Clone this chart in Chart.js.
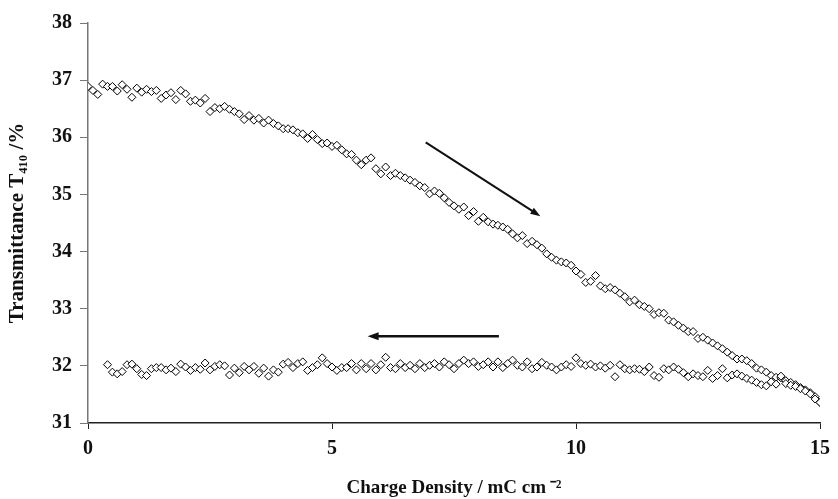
<!DOCTYPE html>
<html>
<head>
<meta charset="utf-8">
<script src="https://cdn.jsdelivr.net/npm/chart.js@4/dist/chart.umd.min.js"></script>
<style>
  html, body { margin: 0; padding: 0; background: #fff; }
  #wrap { width: 838px; height: 499px; }
</style>
</head>
<body>
<div id="wrap"><canvas id="chart" width="838" height="499"></canvas></div>
<script>
// charge density grid (mC cm-2), shared by both sweeps
const charge = [
  0.0,0.1,0.2,0.3,0.4,0.5,0.6,0.7,0.8,0.9,
  1.0,1.1,1.2,1.3,1.4,1.5,1.6,1.7,1.8,1.9,
  2.0,2.1,2.2,2.3,2.4,2.5,2.6,2.7,2.8,2.9,
  3.0,3.1,3.2,3.3,3.4,3.5,3.6,3.7,3.8,3.9,
  4.0,4.1,4.2,4.3,4.4,4.5,4.6,4.7,4.8,4.9,
  5.0,5.1,5.2,5.3,5.4,5.5,5.6,5.7,5.8,5.9,
  6.0,6.1,6.2,6.3,6.4,6.5,6.6,6.7,6.8,6.9,
  7.0,7.1,7.2,7.3,7.4,7.5,7.6,7.7,7.8,7.9,
  8.0,8.1,8.2,8.3,8.4,8.5,8.6,8.7,8.8,8.9,
  9.0,9.1,9.2,9.3,9.4,9.5,9.6,9.7,9.8,9.9,
  10.0,10.1,10.2,10.3,10.4,10.5,10.6,10.7,10.8,10.9,
  11.0,11.1,11.2,11.3,11.4,11.5,11.6,11.7,11.8,11.9,
  12.0,12.1,12.2,12.3,12.4,12.5,12.6,12.7,12.8,12.9,
  13.0,13.1,13.2,13.3,13.4,13.5,13.6,13.7,13.8,13.9,
  14.0,14.1,14.2,14.3,14.4,14.5,14.6,14.7,14.8,14.9,
  15.0
];

// forward sweep (colouring), transmittance at 410 nm
const forwardT = [
  36.89,36.82,36.75,36.93,36.89,36.89,36.81,36.92,36.84,36.70,
  36.86,36.79,36.84,36.80,36.82,36.68,36.74,36.78,36.66,36.82,
  36.76,36.63,36.65,36.60,36.68,36.45,36.52,36.50,36.54,36.49,
  36.45,36.41,36.31,36.38,36.30,36.33,36.25,36.30,36.24,36.20,
  36.15,36.15,36.13,36.08,36.06,35.98,36.05,35.96,35.89,35.90,
  35.84,35.86,35.78,35.71,35.70,35.60,35.52,35.60,35.64,35.45,
  35.36,35.48,35.33,35.37,35.33,35.29,35.25,35.21,35.15,35.12,
  35.01,35.06,35.02,34.94,34.86,34.80,34.74,34.78,34.63,34.70,
  34.53,34.60,34.52,34.48,34.46,34.43,34.39,34.31,34.24,34.28,
  34.14,34.18,34.12,34.06,33.96,33.90,33.85,33.82,33.80,33.76,
  33.66,33.60,33.46,33.48,33.58,33.40,33.35,33.37,33.33,33.27,
  33.21,33.12,33.15,33.07,33.04,33.00,32.90,32.93,32.92,32.80,
  32.77,32.71,32.66,32.60,32.60,32.48,32.50,32.45,32.40,32.35,
  32.30,32.24,32.18,32.12,32.12,32.09,32.04,31.96,31.93,31.89,
  31.83,31.80,31.79,31.74,31.71,31.67,31.62,31.58,31.53,31.46,
  31.36
];

// reverse sweep (back towards 0), stays near 32 %
const reverseT = [
  null,null,null,null,32.02,31.89,31.86,31.90,32.02,32.03,
  31.95,31.85,31.83,31.95,31.97,31.97,31.93,31.96,31.90,32.03,
  31.98,31.92,31.97,31.94,32.05,31.93,31.99,32.02,32.00,31.84,
  31.96,31.88,31.99,31.93,31.99,31.87,31.96,31.82,31.93,31.89,
  32.03,32.06,31.97,32.04,32.07,31.92,31.97,32.02,32.14,32.04,
  31.98,31.92,31.97,31.97,32.04,31.93,32.04,31.95,32.04,31.93,
  32.02,32.15,31.97,31.95,32.04,31.97,32.01,31.95,32.04,31.97,
  32.01,32.04,31.98,32.07,32.02,31.95,32.04,32.10,32.04,32.07,
  31.99,32.02,32.07,31.98,32.07,31.97,32.04,32.10,32.01,31.98,
  32.07,31.95,31.98,32.06,32.01,31.98,31.93,31.98,32.02,31.99,
  32.14,32.04,32.01,32.03,31.98,32.00,31.96,32.01,31.81,32.02,
  31.95,31.93,31.95,31.94,31.90,31.98,31.83,31.80,31.95,31.93,
  31.98,31.94,31.88,31.81,31.86,31.83,31.81,31.92,31.78,31.83,
  31.95,31.79,31.84,31.86,31.82,31.78,31.75,31.71,31.67,31.65,
  31.72,31.68,31.82,31.69,31.66,31.64,31.60,31.56,31.51,31.42,
  31.36
];

const xTicks = [0, 5, 10, 15];
const yTicks = [31, 32, 33, 34, 35, 36, 37, 38];

// arrows, [x0, y0, x1, y1] in data units, head at x1,y1
const arrowDown = [6.92, 35.91, 9.27, 34.62];
const arrowBack = [8.42, 32.52, 5.73, 32.52];

const serif = "'Liberation Serif', 'Times New Roman', serif";

function toPoints(ys) {
  const pts = [];
  charge.forEach((x, i) => { if (ys[i] !== null) pts.push({ x: x, y: ys[i] }); });
  return pts;
}

const arrowPlugin = {
  id: 'arrows',
  afterDatasetsDraw(chart) {
    const { ctx, scales: { x, y } } = chart;
    function arrow(a, lw, headLen, headW) {
      const x0 = x.getPixelForValue(a[0]), y0 = y.getPixelForValue(a[1]);
      const x1 = x.getPixelForValue(a[2]), y1 = y.getPixelForValue(a[3]);
      const ang = Math.atan2(y1 - y0, x1 - x0);
      ctx.save();
      ctx.strokeStyle = '#111';
      ctx.fillStyle = '#111';
      ctx.lineWidth = lw;
      ctx.beginPath();
      ctx.moveTo(x0, y0);
      ctx.lineTo(x1 - Math.cos(ang) * headLen * 0.6, y1 - Math.sin(ang) * headLen * 0.6);
      ctx.stroke();
      ctx.beginPath();
      ctx.moveTo(x1, y1);
      ctx.lineTo(x1 - Math.cos(ang) * headLen - Math.sin(ang) * headW,
                 y1 - Math.sin(ang) * headLen + Math.cos(ang) * headW);
      ctx.lineTo(x1 - Math.cos(ang) * headLen + Math.sin(ang) * headW,
                 y1 - Math.sin(ang) * headLen - Math.cos(ang) * headW);
      ctx.closePath();
      ctx.fill();
      ctx.restore();
    }
    arrow(arrowDown, 2, 10, 3.5);
    arrow(arrowBack, 2.5, 11, 4);
  }
};

const marker = {
  showLine: false,
  pointStyle: 'rectRot',
  pointRadius: 4,
  pointHoverRadius: 4,
  pointBorderWidth: 1,
  pointBorderColor: '#000',
  pointBackgroundColor: '#fff'
};

new Chart(document.getElementById('chart'), {
  type: 'scatter',
  data: {
    datasets: [
      Object.assign({ label: 'reverse', data: toPoints(reverseT) }, marker),
      Object.assign({ label: 'forward', data: toPoints(forwardT) }, marker)
    ]
  },
  options: {
    responsive: false,
    animation: false,
    devicePixelRatio: 1,
    layout: { padding: { top: 23, right: 11, left: 0, bottom: 0 } },
    plugins: { legend: { display: false }, tooltip: { enabled: false } },
    scales: {
      x: {
        type: 'linear', min: 0, max: 15,
        afterBuildTicks: s => { s.ticks = xTicks.map(v => ({ value: v })); },
        afterFit: s => { s.height = 76; },
        grid: { drawOnChartArea: false, tickLength: 6, tickColor: '#222' },
        border: { color: '#222', width: 1.5 },
        ticks: { color: '#111', padding: 8, font: { family: serif, size: 20, weight: 'bold' } },
        title: {
          display: true, text: 'Charge Density / mC cm\u2009\u207B\u00B2', color: '#111',
          padding: { top: 0, bottom: 0 },
          font: { family: serif, size: 19, weight: 'bold' }
        }
      },
      y: {
        type: 'linear', min: 31, max: 38,
        afterBuildTicks: s => { s.ticks = yTicks.map(v => ({ value: v })); },
        afterFit: s => { s.width = 88; },
        grid: { drawOnChartArea: false, tickLength: 8, tickColor: '#777' },
        border: { color: '#777', width: 1.5 },
        ticks: { color: '#111', padding: 8, font: { family: serif, size: 20, weight: 'bold' } },
        title: {
          display: true, text: 'Transmittance T\u2084\u2081\u2080 /%', color: '#111',
          padding: { top: 5, bottom: 0 },
          font: { family: serif, size: 21, weight: 'bold' }
        }
      }
    }
  },
  plugins: [arrowPlugin]
});
</script>
</body>
</html>
